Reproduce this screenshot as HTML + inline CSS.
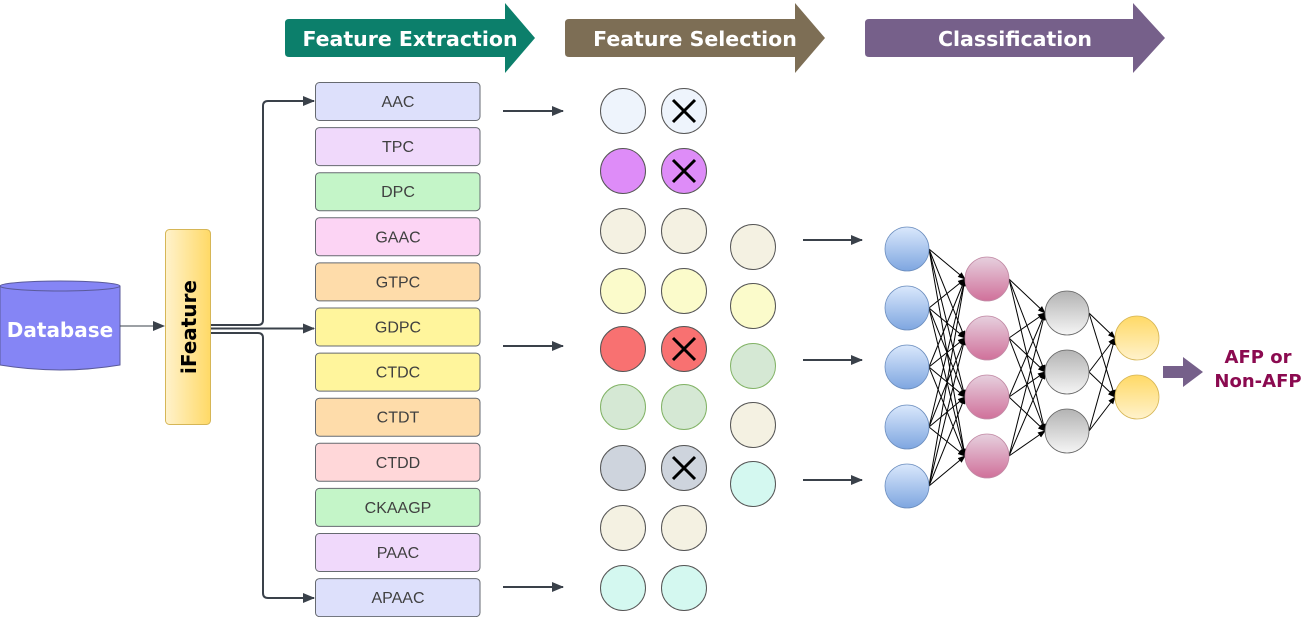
<!DOCTYPE html>
<html><head><meta charset="utf-8"><style>
html,body{margin:0;padding:0;background:#fff;}
svg{display:block;}
text{font-family:"Liberation Sans",sans-serif;}
</style></head><body>
<svg id="s" width="1314" height="617" viewBox="0 0 1314 617" xmlns="http://www.w3.org/2000/svg">
<defs>
<marker id="ah" markerWidth="12" markerHeight="12" refX="11" refY="6" orient="auto" markerUnits="userSpaceOnUse"><path d="M0,1 L12,6 L0,11 Z" fill="#3a414a"/></marker>
<marker id="ak" markerWidth="8" markerHeight="8" refX="7" refY="4" orient="auto" markerUnits="userSpaceOnUse"><path d="M0,1 L8,4 L0,7 Z" fill="#000"/></marker>
<linearGradient id="gif" x1="0" y1="0" x2="1" y2="0"><stop offset="0" stop-color="#fff2cc"/><stop offset="1" stop-color="#ffd966"/></linearGradient>
<linearGradient id="gb" x1="0" y1="0" x2="0" y2="1"><stop offset="0" stop-color="#dae8fc"/><stop offset="1" stop-color="#7ea6e0"/></linearGradient>
<linearGradient id="gp" x1="0" y1="0" x2="0" y2="1"><stop offset="0" stop-color="#e6d0de"/><stop offset="1" stop-color="#d0709a"/></linearGradient>
<linearGradient id="gg" x1="0" y1="0" x2="0" y2="1"><stop offset="0" stop-color="#b3b3b3"/><stop offset="1" stop-color="#f5f5f5"/></linearGradient>
<linearGradient id="gy" x1="0" y1="0" x2="0" y2="1"><stop offset="0" stop-color="#ffd966"/><stop offset="1" stop-color="#fff2cc"/></linearGradient>
</defs>

<path d="M289,19 H505 V3 L535,38 L505,73 V57 H289 Q285,57 285,53 V23 Q285,19 289,19 Z" fill="#0c7f6b"/>
<text x="410" y="46" text-anchor="middle" font-size="20.5" font-weight="bold" fill="#fff" style="font-family:'DejaVu Sans',sans-serif">Feature Extraction</text>
<path d="M569,19 H795 V3 L825,38 L795,73 V57 H569 Q565,57 565,53 V23 Q565,19 569,19 Z" fill="#7d6e55"/>
<text x="695" y="46" text-anchor="middle" font-size="20.5" font-weight="bold" fill="#fff" style="font-family:'DejaVu Sans',sans-serif">Feature Selection</text>
<path d="M869,19 H1133 V3 L1165,38 L1133,73 V57 H869 Q865,57 865,53 V23 Q865,19 869,19 Z" fill="#76608a"/>
<text x="1015" y="46" text-anchor="middle" font-size="20.5" font-weight="bold" fill="#fff" style="font-family:'DejaVu Sans',sans-serif">Classification</text>

<path d="M0,286 V365 Q60,375 120,365 V286" fill="#8585f5" stroke="#5a5a9a" stroke-width="1"/>
<ellipse cx="60" cy="286" rx="60" ry="5" fill="#8585f5" stroke="#5a5a9a" stroke-width="1"/>
<text x="60" y="337" text-anchor="middle" font-size="20" font-weight="bold" fill="#fff" style="font-family:'DejaVu Sans',sans-serif">Database</text>
<line x1="120" y1="326" x2="164" y2="326" stroke="#3a414a" stroke-width="1" marker-end="url(#ah)"/>

<rect x="165.5" y="229.5" width="45" height="195" rx="4" fill="url(#gif)" stroke="#d6b656"/>
<text transform="translate(196,327) rotate(-90)" text-anchor="middle" font-size="20" font-weight="bold" fill="#000" style="font-family:'DejaVu Sans',sans-serif">iFeature</text>

<g fill="none" stroke="#3a414a" stroke-width="2">
<path d="M211,325 H258 Q263,325 263,320 V106 Q263,101 268,101 H314" marker-end="url(#ah)"/>
<path d="M211,328.5 H314" marker-end="url(#ah)"/>
<path d="M211,333 H258 Q263,333 263,338 V593 Q263,598 268,598 H314" marker-end="url(#ah)"/>
<path d="M503,111 H563" marker-end="url(#ah)"/>
<path d="M503,346 H563" marker-end="url(#ah)"/>
<path d="M503,587 H563" marker-end="url(#ah)"/>
<path d="M803,240 H862" marker-end="url(#ah)"/>
<path d="M803,360 H862" marker-end="url(#ah)"/>
<path d="M803,480 H862" marker-end="url(#ah)"/>
</g>
<path d="M1163,366 H1183 V357 L1203,372 L1183,387 V378 H1163 Z" fill="#76608a"/>
<text x="1258" y="363" text-anchor="middle" font-size="18" font-weight="bold" fill="#8b0a50" style="font-family:'DejaVu Sans',sans-serif">AFP or</text>
<text x="1258" y="387" text-anchor="middle" font-size="18" font-weight="bold" fill="#8b0a50" style="font-family:'DejaVu Sans',sans-serif">Non-AFP</text>

<g id="boxes"></g>
<g id="circ"></g>
<g id="nn"></g>
</svg>
<script>
var NS="http://www.w3.org/2000/svg";
function el(p,t,a,txt){var e=document.createElementNS(NS,t);for(var k in a)e.setAttribute(k,a[k]);if(txt)e.textContent=txt;document.getElementById(p).appendChild(e);return e;}
var bx=[["AAC","#dde0fb"],["TPC","#f0d9fb"],["DPC","#c4f5c8"],["GAAC","#fcd4f4"],["GTPC","#fedcaa"],["GDPC","#fff59c"],["CTDC","#fff59c"],["CTDT","#fedcaa"],["CTDD","#ffd7d9"],["CKAAGP","#c4f5c8"],["PAAC","#f0d9fb"],["APAAC","#dde0fb"]];
bx.forEach(function(b,i){var y=82+i*45.1;
el("boxes","rect",{x:315.5,y:y+0.5,width:164.5,height:38,rx:4,fill:b[1],stroke:"#666a70","stroke-width":1});
el("boxes","text",{x:398,y:y+25,"text-anchor":"middle","font-size":16,fill:"#404040"},b[0]);});
var rows=[111,171,231,291,349,407,468,528,588];
var cc=[["#eef4fc","#555"],["#de8cf8","#555"],["#f4f1e2","#555"],["#fbfbcb","#555"],["#f87171","#555"],["#d5e8d4","#82b366"],["#ced4dd","#555"],["#f4f1e2","#555"],["#d4f8f0","#555"]];
var xs=[1,1,0,0,1,0,1,0,0];
rows.forEach(function(y,i){
 el("circ","circle",{cx:623,cy:y,r:22.5,fill:cc[i][0],stroke:cc[i][1]});
 el("circ","circle",{cx:684,cy:y,r:22.5,fill:cc[i][0],stroke:cc[i][1]});
 if(xs[i]){el("circ","path",{d:"M673,"+(y-11)+" L695,"+(y+11)+" M695,"+(y-11)+" L673,"+(y+11),stroke:"#000","stroke-width":3});}
});
var c3=[[247,"#f4f1e2","#555"],[306,"#fbfbcb","#555"],[366,"#d5e8d4","#82b366"],[425,"#f4f1e2","#555"],[484,"#d4f8f0","#555"]];
c3.forEach(function(c){el("circ","circle",{cx:753,cy:c[0],r:22.5,fill:c[1],stroke:c[2]});});
var L=[[907,[249,308,367,427,486],"url(#gb)","#6c8ebf"],[987,[279,338,397,456],"url(#gp)","#b46504"],[1067,[313,372,431],"url(#gg)","#666"],[1137,[338,397],"url(#gy)","#d6b656"]];
for(var l=0;l<3;l++){L[l][1].forEach(function(a){L[l+1][1].forEach(function(b){
 el("nn","line",{x1:L[l][0]+22,y1:a,x2:L[l+1][0]-22,y2:b,stroke:"#000","stroke-width":1,"marker-end":"url(#ak)"});});});}
L.forEach(function(ly,i){ly[1].forEach(function(y){el("nn","circle",{cx:ly[0],cy:y,r:22,fill:ly[2],stroke:i==1?"#c28aa5":ly[3],"stroke-width":0.8});});});
</script>
</body></html>
